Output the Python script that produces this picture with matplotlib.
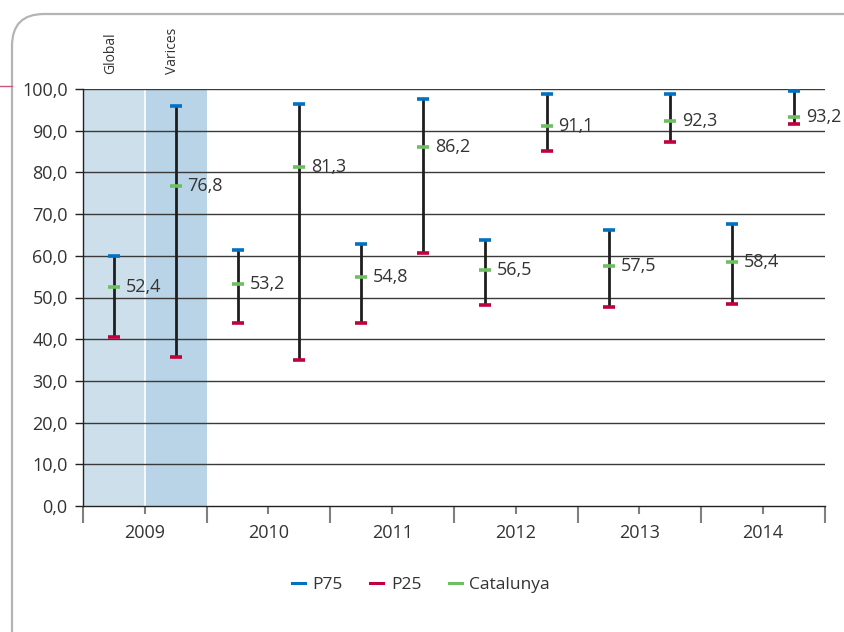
import matplotlib
matplotlib.use("Agg")
import matplotlib.pyplot as plt
from matplotlib.patches import FancyBboxPatch
from matplotlib.lines import Line2D
import numpy as np

plt.rcParams['font.family'] = ['Open Sans', 'DejaVu Sans']

years = ["2009", "2010", "2011", "2012", "2013", "2014"]
subgroups = ["Global", "Varices"]

global_p75 = [60.0, 61.4, 62.8, 63.7, 66.3, 67.7]
global_p25 = [40.6, 43.9, 43.9, 48.1, 47.8, 48.5]
global_cat = [52.4, 53.2, 54.8, 56.5, 57.5, 58.4]

varices_p75 = [96.0, 96.5, 97.6, 98.8, 98.8, 99.6]
varices_p25 = [35.8, 35.1, 60.6, 85.2, 87.3, 91.7]
varices_cat = [76.8, 81.3, 86.2, 91.1, 92.3, 93.2]

yticks = [0, 10, 20, 30, 40, 50, 60, 70, 80, 90, 100]

C_P75 = "#0072c1"
C_P25 = "#c2003d"
C_CAT = "#6dbf62"
TXT = "#333333"

fig = plt.figure(figsize=(8.45, 6.32), dpi=100)
ax = fig.add_axes([83/845, 1-506/632, (825-83)/845, (506-89)/632])

# rounded frame
box = FancyBboxPatch((0.12, -0.5), 9.0, 6.18 + 0.5, boxstyle="round,pad=0,rounding_size=0.32",
                     transform=fig.dpi_scale_trans, fill=False, edgecolor="#b4b4b8", lw=1.6,
                     clip_on=False)
fig.patches.append(box)
fig.add_artist(Line2D([0, 12/845], [1-86/632, 1-86/632], color="#c8577c", lw=1.0))

n = len(years)
pos_g = np.arange(n) * 2
pos_v = np.arange(n) * 2 + 1

ax.axvspan(-0.5, 0.5, color="#cddfeb", zorder=0, lw=0)
ax.axvspan(0.5, 1.5, color="#b9d4e6", zorder=0, lw=0)
ax.axvline(0.5, ymin=0, ymax=1, color="white", lw=1.2, zorder=0.5)

for y in yticks[1:]:
    ax.axhline(y, color="#3a3a3a", lw=1.0, zorder=1)

pos = np.concatenate([pos_g, pos_v])
p75 = np.concatenate([global_p75, varices_p75])
p25 = np.concatenate([global_p25, varices_p25])
cat = np.concatenate([global_cat, varices_cat])

ax.vlines(pos, p25, p75, color="#1e1e1e", lw=2.0, zorder=3)
mk = dict(marker="_", linestyle="none", ms=9, mew=2.6, zorder=4)
ax.plot(pos, p75, color=C_P75, **mk)
ax.plot(pos, p25, color=C_P25, **mk)
ax.plot(pos, cat, color=C_CAT, **mk)

for x, v in zip(pos, cat):
    ax.annotate(f"{v:.1f}".replace(".", ","), (x, v), xytext=(8.5, 0), textcoords="offset points",
                ha="left", va="center", fontsize=13, color=TXT, zorder=5)

ax.set_xlim(-0.5, 2 * n - 0.5)
ax.set_ylim(0, 100)
ax.set_yticks(yticks)
ax.set_yticklabels([f"{v:.1f}".replace(".", ",") for v in yticks])
ax.tick_params(axis="y", length=5.5, width=1.0, color="#222222", pad=5.5, labelsize=13, labelcolor=TXT)

ax.set_xticks(np.arange(n + 1) * 2 - 0.5)
ax.set_xticklabels([])
ax.set_xticks(np.arange(n) * 2 + 0.5, minor=True)
ax.set_xticklabels(years, minor=True)
ax.tick_params(axis="x", which="major", length=12, width=1.5, color="#808080")
ax.tick_params(axis="x", which="minor", length=6, width=1.5, color="#808080", pad=7,
               labelsize=13, labelcolor=TXT)

for s in ["top", "right"]:
    ax.spines[s].set_visible(False)
ax.spines["left"].set_color("#222222")
ax.spines["bottom"].set_color("#222222")
ax.spines["left"].set_linewidth(1.0)
ax.spines["bottom"].set_linewidth(1.0)

for x, lab in zip([0, 1], subgroups):
    ax.text(x - 0.05, 103.5, lab, rotation=90, ha="center", va="bottom", fontsize=10,
            color=TXT, clip_on=False)

handles = [Line2D([], [], color=c, lw=2.2) for c in (C_P75, C_P25, C_CAT)]
fig.legend(handles, ["P75", "P25", "Catalunya"], loc="center", bbox_to_anchor=(421/845, 1-585/632),
           ncol=3, frameon=False, handlelength=0.72, handletextpad=0.45, columnspacing=1.6,
           fontsize=12.5, labelcolor=TXT)

fig.savefig("out.png", dpi=100)
